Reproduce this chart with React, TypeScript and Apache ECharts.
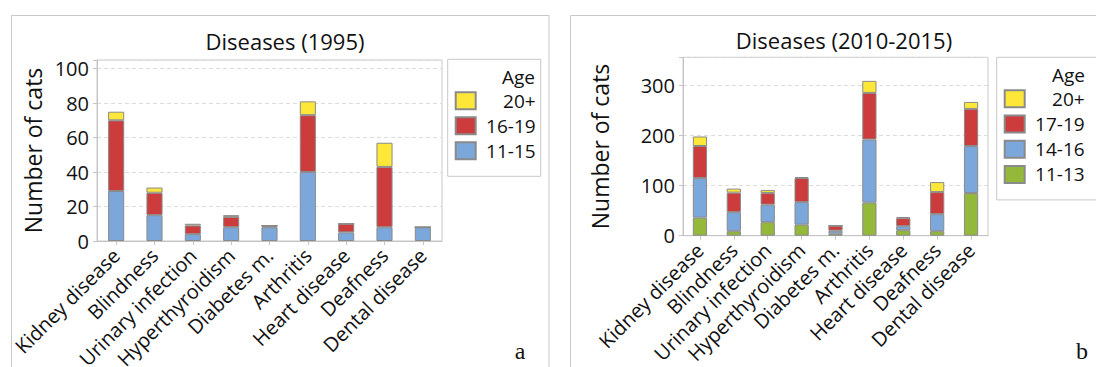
import React, { useEffect, useRef } from "react";
import * as echarts from "echarts";

const categories = [
  "Kidney disease",
  "Blindness",
  "Urinary infection",
  "Hyperthyroidism",
  "Diabetes m.",
  "Arthritis",
  "Heart disease",
  "Deafness",
  "Dental disease",
];

// Panel a (1995)
const a_11_15 = [29, 15, 4, 8, 8, 40, 5, 8, 8];
const a_16_19 = [41, 13, 5, 6, 1, 33, 5, 35, 0];
const a_20p = [5, 3, 1, 1, 0, 8, 0, 14, 0];

// Panel b (2010-2015)
const b_11_13 = [36, 9, 27, 22, 4, 66, 11, 9, 85];
const b_14_16 = [79, 38, 35, 45, 6, 126, 8, 34, 94];
const b_17_19 = [64, 39, 23, 48, 10, 93, 16, 44, 74];
const b_20p = [19, 8, 6, 2, 0, 24, 2, 20, 14];

const aTicks = [0, 20, 40, 60, 80, 100];
const bTicks = [0, 100, 200, 300];

const YELLOW = "#FDE83A";
const RED = "#CC3C3C";
const BLUE = "#7BA7DB";
const GREEN = "#93B83A";
const FONT = "'Open Sans', 'Noto Sans', sans-serif";
const TXT = "#111111";

function barSeries(name: string, data: number[], color: string, idx: number, stack: string) {
  return {
    type: "bar",
    name,
    data,
    stack,
    xAxisIndex: idx,
    yAxisIndex: idx,
    barWidth: "42%",
    itemStyle: { color, borderColor: "#8a8a8a", borderWidth: 1 },
  };
}

function xAxis(idx: number) {
  return {
    type: "category",
    gridIndex: idx,
    data: categories,
    axisLine: { lineStyle: { color: "#c4c4c4" } },
    axisTick: { show: true, alignWithLabel: true, length: 4, lineStyle: { color: "#c4c4c4" } },
    axisLabel: {
      rotate: 45,
      interval: 0,
      margin: 11,
      fontSize: 20,
      fontFamily: FONT,
      color: TXT,
    },
  };
}

function yAxis(idx: number, max: number, interval: number, ticks: number[], nameGap: number) {
  return {
    type: "value",
    gridIndex: idx,
    min: 0,
    max,
    interval,
    name: "Number of cats",
    nameLocation: "middle",
    nameGap,
    nameTextStyle: { fontSize: 23, fontFamily: FONT, color: TXT },
    axisLine: { show: true, lineStyle: { color: "#c4c4c4" } },
    axisTick: { show: true, length: 4, lineStyle: { color: "#c4c4c4" } },
    axisLabel: {
      margin: 8,
      fontSize: 20,
      fontFamily: FONT,
      color: TXT,
      formatter: (v: number) => (ticks.indexOf(v) >= 0 ? String(v) : ""),
    },
    splitLine: { show: true, lineStyle: { color: "#dcdcdc", type: [4, 3] } },
  };
}

function legendRich() {
  return {
    r: { width: 55, align: "right", fontSize: 19, lineHeight: 16, fontFamily: FONT, color: TXT },
  };
}

export default function App() {
  const ref = useRef<HTMLDivElement>(null);
  useEffect(() => {
    if (!ref.current) return;
    const chart = echarts.init(ref.current, null, { renderer: "svg" });
    chart.setOption({
      animation: false,
      backgroundColor: "#ffffff",
      title: [
        {
          text: "Diseases (1995)",
          left: 280,
          top: 25,
          textAlign: "center",
          textStyle: { fontSize: 22, fontWeight: "normal", fontFamily: FONT, color: TXT },
        },
        {
          text: "Diseases (2010-2015)",
          left: 839,
          top: 24,
          textAlign: "center",
          textStyle: { fontSize: 22, fontWeight: "normal", fontFamily: FONT, color: TXT },
        },
      ],
      grid: [
        {
          left: 97, top: 60, width: 345, height: 181, show: true, borderColor: "#c8c8c8",
          containLabel: false, outerBoundsMode: "none",
        },
        {
          left: 683, top: 57.3, width: 305, height: 178.4, show: true, borderColor: "#c8c8c8",
          containLabel: false, outerBoundsMode: "none",
        },
      ],
      xAxis: [xAxis(0), xAxis(1)],
      yAxis: [yAxis(0, 105, 20, aTicks, 53), yAxis(1, 356, 100, bTicks, 72)],
      legend: [
        {
          orient: "vertical",
          left: 447.7,
          top: 59.3,
          padding: [32, 5, 16, 7],
          itemWidth: 20,
          itemHeight: 17,
          itemGap: 6,
          icon: "rect",
          borderColor: "#c8c8c8",
          borderWidth: 1,
          data: ["20+", "16-19", "11-15"],
          formatter: (n: string) => "{r|" + n + "}",
          textStyle: { rich: legendRich() },
        },
        {
          orient: "vertical",
          left: 996.7,
          top: 57.3,
          padding: [32, 20, 16, 7],
          itemWidth: 20,
          itemHeight: 17,
          itemGap: 6.2,
          icon: "rect",
          borderColor: "#c8c8c8",
          borderWidth: 1,
          data: ["20+", "17-19", "14-16", "11-13"],
          formatter: (n: string) => "{r|" + n + "}",
          textStyle: { rich: legendRich() },
        },
      ],
      graphic: [
        {
          type: "rect",
          silent: true,
          shape: { x: 11.5, y: 15.5, width: 537.5, height: 400 },
          style: { fill: "none", stroke: "#c8c8c8", lineWidth: 1 },
        },
        {
          type: "rect",
          silent: true,
          shape: { x: 570.5, y: 15.5, width: 600, height: 400 },
          style: { fill: "none", stroke: "#c8c8c8", lineWidth: 1 },
        },
        {
          type: "text",
          x: 535,
          y: 77,
          style: { text: "Age", font: "19px 'Open Sans', sans-serif", fill: TXT, align: "right", verticalAlign: "middle" },
        },
        {
          type: "text",
          x: 1085,
          y: 75,
          style: { text: "Age", font: "19px 'Open Sans', sans-serif", fill: TXT, align: "right", verticalAlign: "middle" },
        },
        {
          type: "text",
          x: 520,
          y: 351,
          style: { text: "a", font: "24px 'Liberation Serif', serif", fill: TXT, align: "center", verticalAlign: "middle" },
        },
        {
          type: "text",
          x: 1082,
          y: 351,
          style: { text: "b", font: "24px 'Liberation Serif', serif", fill: TXT, align: "center", verticalAlign: "middle" },
        },
      ],
      series: [
        barSeries("11-15", a_11_15, BLUE, 0, "a"),
        barSeries("16-19", a_16_19, RED, 0, "a"),
        barSeries("20+", a_20p, YELLOW, 0, "a"),
        barSeries("11-13", b_11_13, GREEN, 1, "b"),
        barSeries("14-16", b_14_16, BLUE, 1, "b"),
        barSeries("17-19", b_17_19, RED, 1, "b"),
        barSeries("20+", b_20p, YELLOW, 1, "b"),
      ],
    });
    return () => chart.dispose();
  }, []);
  return (
    <div
      ref={ref}
      style={{ position: "fixed", left: 0, top: 0, width: 1096, height: 367, background: "#fff" }}
    />
  );
}
